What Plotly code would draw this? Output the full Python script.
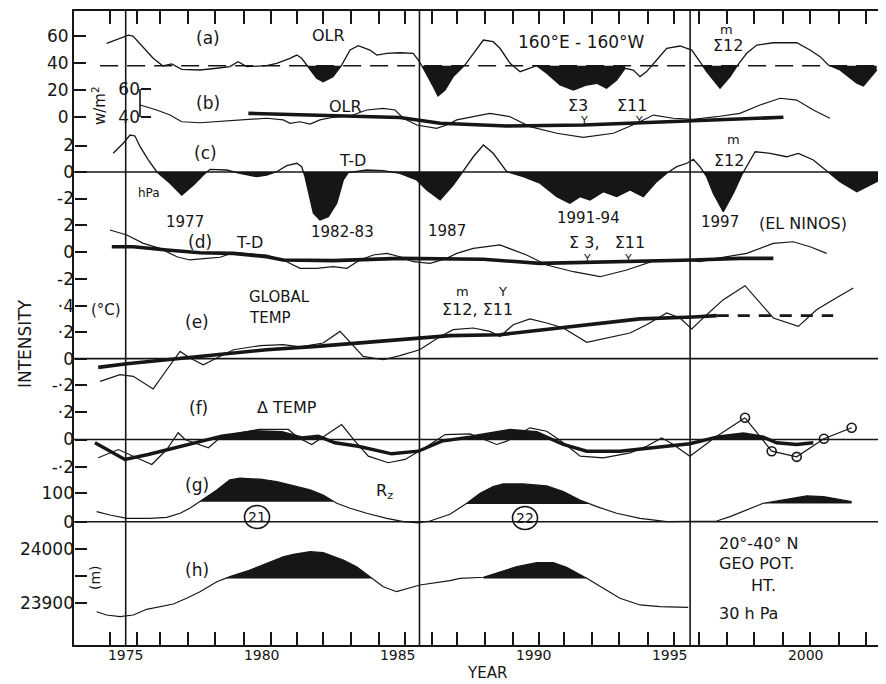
import plotly.graph_objects as go

# ---------------- data ----------------
# (a) OLR 160E-160W, W/m2
A_YR = [1974.30, 1974.67, 1975.10, 1975.27, 1975.64, 1976.00, 1976.37, 1976.69, 1977.06, 1977.73,
        1978.35, 1978.83, 1979.13, 1979.45, 1980.18, 1980.55, 1981.04, 1981.29, 1981.47, 1981.65,
        1982.02, 1982.26, 1982.62, 1982.94, 1983.25, 1983.55, 1983.98, 1984.23, 1984.60, 1985.08,
        1985.57, 1985.76, 1985.94, 1986.31, 1986.48, 1986.74, 1987.04, 1987.47, 1987.78, 1988.15,
        1988.51, 1988.76, 1989.13, 1989.50, 1990.11, 1990.48, 1990.97, 1991.46, 1991.95, 1992.32,
        1992.68, 1993.05, 1993.36, 1993.66, 1993.91, 1994.15, 1994.52, 1994.89, 1995.38, 1995.81,
        1996.11, 1996.36, 1996.85, 1997.22, 1997.46, 1997.83, 1998.20, 1998.81, 1999.67, 2000.16,
        2000.53, 2000.83, 2001.26, 2001.88, 2002.12, 2002.36, 2002.61]
A_OLR = [54.6, 57.6, 60.7, 60.0, 52.1, 43.7, 37.8, 39.3, 35.3, 34.8,
         36.1, 37.3, 41.0, 37.3, 38.0, 39.8, 43.5, 45.9, 43.5, 38.5,
         28.7, 26.1, 29.9, 38.5, 49.6, 52.8, 49.6, 45.9, 47.2, 47.6,
         47.2, 42.2, 36.1, 22.4, 15.5, 20.0, 29.9, 38.5, 47.2, 57.0,
         55.8, 50.9, 39.8, 33.6, 38.0, 32.4, 23.7, 20.0, 23.7, 25.0,
         21.3, 27.4, 36.1, 34.8, 29.9, 33.6, 42.2, 50.9, 52.6, 49.6,
         41.0, 33.6, 21.3, 29.9, 37.3, 47.2, 53.3, 55.0, 55.0, 49.6,
         44.7, 38.5, 34.8, 25.0, 23.0, 28.7, 34.8]
A_REF = 38.0
A_REF_SPAN = [1974.06, 2002.62]
A_EPISODES = [(1981.5, 1983.1), (1985.8, 1987.6), (1990.0, 1993.4), (1996.0, 1997.5), (2000.7, 2003.0)]

# (b) OLR, smoothed
B_YR = [1975.53, 1976.14, 1976.63, 1977.06, 1977.73, 1978.96, 1980.18, 1980.79, 1981.04, 1981.41,
        1981.78, 1982.14, 1982.63, 1983.25, 1983.86, 1984.47, 1984.90, 1985.21, 1985.70, 1986.43,
        1986.80, 1987.17, 1988.39, 1989.13, 1989.86, 1990.85, 1991.82, 1992.93, 1993.79, 1994.40,
        1995.13, 1995.87, 1996.73, 1997.58, 1998.32, 1999.06, 1999.67, 2000.28, 2000.89]
B_OLR = [48.6, 45.0, 41.4, 36.6, 35.9, 37.4, 39.1, 37.9, 35.5, 36.6,
         35.0, 37.9, 39.8, 40.7, 45.0, 46.2, 45.0, 39.1, 34.3, 31.9,
         34.3, 37.9, 42.6, 40.2, 33.1, 28.4, 25.5, 28.4, 35.5, 41.4,
         39.1, 38.4, 40.2, 42.6, 48.6, 53.4, 52.1, 45.0, 39.1]
B_TREND_YR = [1979.51, 1982.63, 1985.08, 1986.56, 1989.01, 1991.82, 1993.90, 1995.87, 1999.18]
B_TREND = [42.6, 40.6, 39.6, 35.5, 33.6, 34.3, 35.9, 37.4, 39.8]

# (c) T-D, hPa
C_YR = [1974.54, 1974.91, 1975.16, 1975.34, 1975.53, 1975.83, 1976.14, 1976.63, 1977.06, 1977.49,
        1977.85, 1978.10, 1978.71, 1979.20, 1979.82, 1980.18, 1980.55, 1980.92, 1981.29, 1981.47,
        1981.59, 1981.78, 1981.90, 1982.14, 1982.45, 1982.76, 1983.00, 1983.18, 1983.86, 1984.47,
        1985.08, 1985.70, 1986.07, 1986.56, 1987.04, 1987.35, 1987.78, 1988.15, 1988.51, 1989.01,
        1989.62, 1990.23, 1990.85, 1991.33, 1991.70, 1992.07, 1992.56, 1993.05, 1993.54, 1994.03,
        1994.52, 1994.89, 1995.26, 1995.63, 1995.87, 1996.11, 1996.36, 1996.60, 1996.97, 1997.34,
        1997.65, 1998.14, 1998.69, 1999.30, 1999.73, 2000.28, 2000.89, 2001.26, 2001.88, 2002.36,
        2002.73, 2002.85]
C_TD = [1.41, 2.17, 2.79, 2.72, 1.91, 0.91, 0.02, -0.85, -1.74, -0.98,
        -0.23, 0.20, 0.15, -0.10, -0.35, -0.23, 0.02, 0.48, 0.66, 0.40,
        -0.35, -2.11, -3.11, -3.62, -3.37, -2.36, -0.60, -0.05, 0.15, 0.10,
        -0.10, -0.60, -1.36, -2.11, -0.98, -0.10, 1.15, 2.04, 1.41, 0.02,
        -0.35, -0.85, -1.86, -2.36, -1.86, -2.11, -1.49, -1.86, -1.36, -1.86,
        -0.73, -0.10, 0.40, 0.66, 0.96, 0.40, -0.35, -1.61, -3.00, -1.61,
        -0.23, 1.53, 1.41, 1.15, 1.41, 0.91, -0.10, -0.73, -1.49, -0.98,
        -0.60, -0.35]

# (d) T-D, smoothed
D_YR = [1974.42, 1975.04, 1975.65, 1976.26, 1976.88, 1977.36, 1977.98, 1978.47, 1978.96, 1979.45,
        1980.18, 1980.79, 1981.41, 1982.02, 1982.63, 1983.13, 1983.61, 1984.10, 1984.60, 1985.08,
        1985.57, 1986.19, 1986.80, 1987.17, 1987.78, 1988.76, 1989.74, 1990.48, 1991.46, 1992.44,
        1993.42, 1994.52, 1995.63, 1996.11, 1996.73, 1997.83, 1998.81, 1999.54, 2000.16, 2000.77]
D_TD = [1.63, 1.26, 0.64, 0.27, -0.35, -0.59, -0.47, -0.39, -0.05, -0.10,
        -0.22, -0.59, -1.21, -1.21, -1.09, -1.21, -0.59, -0.22, -0.10, -0.35,
        -0.72, -0.84, -0.47, -0.10, 0.27, 0.52, -0.22, -0.96, -1.46, -1.83,
        -1.33, -0.59, -0.59, -0.72, -0.47, -0.10, 0.64, 0.76, 0.39, -0.10]
D_TREND_YR = [1974.49, 1975.28, 1976.51, 1977.73, 1978.96, 1980.18, 1980.79, 1982.63, 1985.08, 1986.80,
              1988.15, 1990.23, 1993.90, 1995.87, 1997.58, 1998.81]
D_TREND = [0.39, 0.39, 0.15, -0.05, -0.10, -0.35, -0.59, -0.64, -0.47, -0.54,
           -0.54, -0.84, -0.72, -0.59, -0.47, -0.47]

# (e) global temperature, deg C
E_YR = [1974.06, 1974.79, 1975.28, 1976.01, 1976.51, 1977.00, 1977.36, 1977.85, 1978.35, 1978.96,
        1979.94, 1980.79, 1981.41, 1982.26, 1982.88, 1983.37, 1983.73, 1984.47, 1985.08, 1985.81,
        1986.56, 1987.04, 1987.78, 1988.39, 1988.76, 1989.25, 1989.86, 1990.48, 1991.09, 1991.95,
        1992.68, 1993.54, 1994.15, 1994.89, 1995.38, 1995.81, 1996.36, 1996.97, 1997.77, 1998.32,
        1998.81, 1999.73, 2000.40, 2001.01, 2001.75]
E_TEMP = [-0.172, -0.122, -0.134, -0.230, -0.084, 0.055, 0.005, -0.046, 0.005, 0.068,
          0.099, 0.106, 0.089, 0.119, 0.207, 0.093, 0.017, -0.008, 0.023, 0.068,
          0.169, 0.220, 0.233, 0.207, 0.169, 0.258, 0.302, 0.271, 0.233, 0.124,
          0.157, 0.195, 0.258, 0.347, 0.309, 0.226, 0.334, 0.448, 0.554, 0.423,
          0.309, 0.245, 0.372, 0.448, 0.537]
E_TREND_YR = [1973.99, 1975.04, 1976.51, 1978.35, 1980.18, 1982.02, 1983.86, 1986.92, 1988.76, 1991.46,
              1993.90, 1995.87, 1996.73]
E_TREND = [-0.066, -0.038, -0.008, 0.030, 0.068, 0.093, 0.124, 0.175, 0.182, 0.245,
           0.302, 0.317, 0.327]
E_TREND_EXT_YR = [1996.73, 2001.01]
E_TREND_EXT = [0.327, 0.327]

# (f) delta temperature
F_SM_YR = [1973.87, 1974.97, 1975.83, 1976.81, 1977.79, 1978.53, 1979.75, 1980.74, 1981.47, 1982.08,
           1982.69, 1983.55, 1984.78, 1985.76, 1986.62, 1987.66, 1989.13, 1990.11, 1991.09, 1991.95,
           1993.17, 1994.40, 1995.74, 1996.73, 1997.71, 1998.44, 1998.93, 1999.67, 2000.28]
F_SM = [-0.024, -0.145, -0.109, -0.060, -0.012, 0.024, 0.056, 0.049, 0.012, 0.024,
        -0.024, -0.049, -0.104, -0.085, -0.012, 0.017, 0.065, 0.049, -0.036, -0.085,
        -0.085, -0.060, -0.031, 0.017, 0.041, 0.017, -0.024, -0.036, -0.024]
F_RAW_YR = [1973.99, 1974.73, 1975.96, 1976.51, 1976.93, 1977.18, 1978.04, 1978.53, 1979.88, 1980.98,
            1981.35, 1981.84, 1982.21, 1982.94, 1983.43, 1983.92, 1984.65, 1985.27, 1986.00, 1986.74,
            1987.66, 1988.64, 1989.01, 1989.86, 1990.48, 1991.09, 1991.71, 1992.56, 1993.54, 1994.15,
            1994.71, 1995.13, 1995.74, 1996.24, 1996.73, 1997.77]
F_RAW = [-0.133, -0.073, -0.182, -0.073, 0.049, 0.000, -0.060, 0.024, 0.073, 0.073,
         0.012, -0.036, 0.012, 0.109, -0.012, -0.121, -0.169, -0.145, -0.060, 0.036,
         0.041, -0.036, -0.012, 0.085, 0.060, -0.024, -0.121, -0.133, -0.097, -0.049,
         0.012, -0.036, -0.121, -0.049, 0.024, 0.158]
F_NEW_YR = [1997.77, 1998.75, 1999.67, 2000.67, 2001.69]
F_NEW = [0.158, -0.085, -0.126, 0.005, 0.085]

# (g) sunspot number Rz
G_YR = [1973.93, 1974.42, 1975.04, 1975.89, 1976.51, 1977.00, 1977.36, 1977.85, 1978.35, 1978.83,
        1979.20, 1979.94, 1980.55, 1981.04, 1981.78, 1982.26, 1982.76, 1983.25, 1983.86, 1984.60,
        1985.21, 1985.76, 1986.19, 1986.92, 1987.54, 1988.03, 1988.51, 1988.88, 1989.62, 1990.48,
        1991.09, 1991.70, 1992.32, 1993.05, 1993.91, 1994.89, 1995.75, 1996.73, 1997.22, 1997.83,
        1998.44, 1999.18, 2000.04, 2000.65, 2001.26, 2001.69]
G_RZ = [35.3, 23.7, 12.0, 12.0, 15.5, 29.7, 47.3, 79.1, 111.9, 147.2,
        153.2, 149.7, 141.2, 129.6, 111.9, 94.3, 65.0, 47.3, 29.7, 12.0,
        0.0, -4.0, 2.5, 26.1, 65.0, 100.3, 123.6, 133.1, 133.1, 126.0,
        105.9, 76.6, 53.0, 29.7, 12.0, 0.0, 0.0, 2.5, 17.7, 41.3,
        65.0, 76.6, 90.7, 88.3, 76.6, 70.6]
G_CYCLES = [(1977.6, 1982.9, 70.6), (1987.4, 1992.2, 62.0), (1998.2, 2001.8, 64.0)]
G_CYCLE_NAMES = ["21", "22"]

# (h) 30 hPa geopotential height, 20-40N, m
H_YR = [1973.93, 1974.30, 1974.79, 1975.28, 1975.77, 1976.26, 1976.75, 1977.24, 1977.73, 1978.35,
        1978.83, 1979.57, 1980.18, 1980.79, 1981.16, 1981.78, 1982.26, 1983.00, 1983.49, 1983.98,
        1984.47, 1984.96, 1985.45, 1985.82, 1986.92, 1987.29, 1988.15, 1988.76, 1989.38, 1990.11,
        1990.72, 1991.21, 1991.95, 1992.56, 1993.17, 1993.91, 1994.64, 1995.68]
H_GPH = [23884.4, 23878.3, 23875.2, 23878.3, 23888.9, 23893.7, 23898.7, 23909.3, 23921.5, 23940.0,
         23949.3, 23961.7, 23974.1, 23986.3, 23990.7, 23995.6, 23993.7, 23980.2, 23967.8, 23949.3,
         23930.7, 23921.5, 23927.8, 23933.9, 23941.9, 23946.3, 23948.2, 23958.5, 23967.8, 23975.2,
         23975.2, 23966.7, 23946.3, 23927.8, 23909.3, 23896.9, 23893.7, 23892.6]
H_REF = 23946.0
H_CYCLES = [(1978.5, 1984.2), (1988.0, 1992.1)]

# axis ticks and reference years
YEAR_LABELS = [1975, 1980, 1985, 1990, 1995, 2000]
YEAR_TICKS = [1974.43, 1975.40, 1976.26, 1977.28, 1978.28, 1979.35, 1980.33, 1981.29, 1982.25, 1983.27,
              1984.31, 1985.27, 1986.25, 1987.17, 1988.21, 1989.23, 1990.20, 1991.12, 1992.14, 1993.15,
              1994.19, 1995.17, 1996.09, 1997.10, 1998.11, 1999.15, 2000.15, 2001.23, 2002.20]
VLINE_YR = [1975.0, 1985.8, 1995.75]

# ---------------- geometry / style ----------------
FONT = "DejaVu Sans"
INK = "#161616"
PAGE_OFF = 8                      # default page margin of the html body
W, H = 886, 684                   # target picture size
PL, PR, PT, PB = 74, 886, 11, 645  # plot area edges in picture pixels
PW, PH = PR - PL, PB - PT
X1975_PX, PX_PER_YR = 125.7, 27.2


def xpap(x):
    return (x - PL) / PW


def ypap(y):
    return (PB - y) / PH


def yrange(v1, p1, v2, p2):
    k = (v2 - v1) / (p1 - p2)
    return [v1 - k * (PB - p1), v1 + k * (p1 - PT)]


XR = [1975 - (X1975_PX - PL) / PX_PER_YR, 1975 + (PR - X1975_PX) / PX_PER_YR]

fig = go.Figure()


def add_line(x, y, ax, w=1.3, dash=None, mode="lines", marker=None, xax="x"):
    fig.add_trace(go.Scatter(x=x, y=y, xaxis=xax, yaxis=ax, mode=mode,
                             line=dict(color=INK, width=w, dash=dash),
                             marker=marker, hoverinfo="skip", showlegend=False))


def fill_region(xs, ys, thr, lo, hi, below):
    pts = []
    for i in range(len(xs)):
        if i > 0 and (ys[i - 1] - thr) * (ys[i] - thr) < 0:
            xc = xs[i - 1] + (thr - ys[i - 1]) * (xs[i] - xs[i - 1]) / (ys[i] - ys[i - 1])
            if lo <= xc <= hi:
                pts.append((xc, thr))
        if lo <= xs[i] <= hi:
            v = min(ys[i], thr) if below else max(ys[i], thr)
            pts.append((xs[i], v))
    if not pts:
        return [], []
    px_ = [pts[0][0]] + [p[0] for p in pts] + [pts[-1][0]]
    py_ = [thr] + [p[1] for p in pts] + [thr]
    return px_, py_


def add_fill(xs, ys, thr, ax, below, lo, hi):
    fx, fy = fill_region(xs, ys, thr, lo, hi, below)
    fig.add_trace(go.Scatter(x=fx, y=fy, yaxis=ax, mode="lines", fill="toself",
                             fillcolor=INK, line=dict(width=0, color=INK),
                             hoverinfo="skip", showlegend=False))


# (a)
for lo, hi in A_EPISODES:
    add_fill(A_YR, A_OLR, A_REF, "y", True, lo, hi)
add_line(A_YR, A_OLR, "y", 1.3)
# (b)
add_line(B_YR, B_OLR, "y2", 1.2)
add_line(B_TREND_YR, B_TREND, "y2", 3.6)
# (c)
add_fill(C_YR, C_TD, 0.0, "y3", True, -1e9, 1e9)
add_line(C_YR, C_TD, "y3", 1.3)
# (d)
add_line(D_YR, D_TD, "y4", 1.2)
add_line(D_TREND_YR, D_TREND, "y4", 3.6)
# (e)
add_line(E_YR, E_TEMP, "y5", 1.2)
add_line(E_TREND_YR, E_TREND, "y5", 3.6)
add_line(E_TREND_EXT_YR, E_TREND_EXT, "y5", 2.6, dash="12px,9px")
# (f)
add_fill(F_SM_YR, F_SM, 0.0, "y6", False, -1e9, 1e9)
add_line(F_SM_YR, F_SM, "y6", 3.4)
add_line(F_RAW_YR, F_RAW, "y6", 1.2)
add_line(F_NEW_YR, F_NEW, "y6", 1.2, mode="lines+markers",
         marker=dict(symbol="circle-open", size=9, color=INK, line=dict(width=1.6, color=INK)))
# (g)
for lo, hi, thr in G_CYCLES:
    add_fill(G_YR, G_RZ, thr, "y7", False, lo, hi)
add_line(G_YR, G_RZ, "y7", 1.2)
# (h)
for lo, hi in H_CYCLES:
    add_fill(H_YR, H_GPH, H_REF, "y8", False, lo, hi)
add_line(H_YR, H_GPH, "y8", 1.2, xax="x2")

TF = dict(family=FONT, size=17, color=INK)


def yax(rng, vals, texts, pos=0.0, overlay=True, ticklen=12):
    d = dict(range=rng, tickmode="array", tickvals=vals, ticktext=texts,
             ticks="inside", ticklen=ticklen, tickwidth=1.6, tickcolor=INK,
             showgrid=False, zeroline=False, showline=False, tickfont=TF,
             fixedrange=True)
    if overlay:
        d.update(overlaying="y", anchor="free", position=pos, side="left")
    else:
        d.update(anchor="x", showline=True, linecolor=INK, linewidth=1.8)
    return d


layout_axes = dict(
    yaxis=yax(yrange(0, 117, 60, 36), [0, 20, 40, 60], ["0", "20", "40", "60"], overlay=False),
    yaxis2=yax(yrange(40, 117, 60, 89), [40, 60], ["40", "60"], pos=xpap(140), ticklen=10),
    yaxis3=yax(yrange(-2, 198.5, 2, 145.5), [-2, 0, 2], ["-2", "0", "2"]),
    yaxis4=yax(yrange(-2, 279, 2, 225), [-2, 0, 2], ["-2", "0", "2"]),
    yaxis5=yax(yrange(-0.2, 385, 0.4, 306), [-0.2, 0, 0.2, 0.4], ["-·2", "0", "·2", "·4"]),
    yaxis6=yax(yrange(-0.2, 467, 0.2, 412), [-0.2, 0, 0.2], ["-·2", "0", "·2"]),
    yaxis7=yax(yrange(0, 521.7, 100, 493.3), [0, 100], ["0", "100"]),
    yaxis8=yax(yrange(23900, 603.3, 24000, 549.3), [23900, 23950, 24000], ["23900", " ", "24000"]),
)

shapes = []
for v in VLINE_YR:
    shapes.append(dict(type="line", xref="x", yref="paper", x0=v, x1=v, y0=0, y1=1,
                       line=dict(color=INK, width=1.6)))
for ax in ["y3", "y5", "y6", "y7"]:
    shapes.append(dict(type="line", xref="paper", yref=ax, x0=0, x1=1, y0=0, y1=0,
                       line=dict(color=INK, width=1.6)))
shapes.append(dict(type="line", xref="x", yref="y", x0=A_REF_SPAN[0], x1=A_REF_SPAN[1],
                   y0=A_REF, y1=A_REF, line=dict(color=INK, width=1.6, dash="18px,9px")))
shapes.append(dict(type="line", xref="paper", yref="y2", x0=xpap(140), x1=xpap(140),
                   y0=40, y1=60, line=dict(color=INK, width=1.6)))
for name, (cx, cy) in zip(G_CYCLE_NAMES, [(257, 517), (525, 518)]):
    shapes.append(dict(type="circle", xref="paper", yref="paper", xsizemode="pixel",
                       ysizemode="pixel", xanchor=xpap(cx), yanchor=ypap(cy),
                       x0=-12.5, x1=12.5, y0=-11.5, y1=11.5, line=dict(color=INK, width=1.6)))

anns = []


def ann(text, x, y, size=16, xanchor="center", angle=0):
    anns.append(dict(text=text, x=xpap(x), y=ypap(y), xref="paper", yref="paper",
                     showarrow=False, xanchor=xanchor, yanchor="middle", textangle=angle,
                     font=dict(family=FONT, size=size, color=INK)))


ann("(a)", 208, 38, 17)
ann("OLR", 328, 36)
ann("160°E - 160°W", 581, 42, 17)
ann("m", 726, 29, 13)
ann("Σ12", 728, 45, 16)
ann("w/m<sup>2</sup>", 99, 106, 15, angle=-90)
ann("(b)", 208, 103, 17)
ann("OLR", 345, 107)
ann("Σ3", 578, 106, 16)
ann("Y", 584, 120, 11)
ann("Σ11", 632, 106, 16)
ann("Y", 639, 120, 11)
ann("(c)", 205, 153, 17)
ann("T-D", 352, 161)
ann("hPa", 149, 193, 12)
ann("m", 733, 140, 13)
ann("Σ12", 729, 160, 16)
ann("1977", 185, 222, 15)
ann("1982-83", 342, 232, 15)
ann("1987", 447, 231, 15)
ann("1991-94", 588, 218, 15)
ann("1997", 720, 222, 15)
ann("(EL NINOS)", 803, 223, 16)
ann("(d)", 200, 242, 17)
ann("T-D", 249, 243)
ann("Σ 3,   Σ11", 607, 243, 16)
ann("Y", 587, 258, 11)
ann("Y", 628, 258, 11)
ann("(°C)", 106, 310, 15)
ann("GLOBAL", 247, 297, 15, xanchor="left")
ann("TEMP", 247, 318, 15, xanchor="left")
ann("(e)", 197, 322, 17)
ann("m", 462, 291, 13)
ann("Y", 502, 291, 13)
ann("Σ12, Σ11", 477, 310, 16)
ann("INTENSITY", 25, 344, 17, angle=-90)
ann("(f)", 198, 408, 17)
ann("Δ TEMP", 287, 407, 16)
ann("(g)", 197, 485, 17)
ann("R<sub>z</sub>", 384, 491, 16)
ann("21", 257, 517, 14)
ann("22", 525, 518, 14)
ann("(h)", 197, 570, 17)
ann("(m)", 95, 578, 14, angle=-90)
ann("20°-40° N", 717, 543, 16, xanchor="left")
ann("GEO POT.", 717, 563, 16, xanchor="left")
ann("HT.", 749, 585, 16, xanchor="left")
ann("30 h Pa", 717, 613, 16, xanchor="left")
ann("YEAR", 487, 673, 15)

fig.update_layout(
    width=W - PAGE_OFF, height=H - PAGE_OFF,
    margin=dict(l=PL - PAGE_OFF, r=W - PR, t=PT - PAGE_OFF, b=H - PB),
    paper_bgcolor="white", plot_bgcolor="white", showlegend=False,
    font=dict(family=FONT, color=INK),
    # tick marks (bottom + mirrored on top)
    xaxis=dict(range=XR, tickmode="array", tickvals=YEAR_TICKS,
               ticktext=["" for _ in YEAR_TICKS], ticks="inside", ticklen=13,
               tickwidth=1.6, tickcolor=INK,
               showline=True, mirror="ticks", linecolor=INK, linewidth=1.8,
               showgrid=False, zeroline=False, fixedrange=True),
    # year labels
    xaxis2=dict(range=XR, overlaying="x", side="bottom", anchor="y",
                tickmode="array", tickvals=YEAR_LABELS,
                ticktext=[str(v) for v in YEAR_LABELS], ticks="", showline=False,
                showgrid=False, zeroline=False, fixedrange=True,
                tickfont=dict(family=FONT, size=14, color=INK)),
    shapes=shapes, annotations=anns, **layout_axes,
)

fig.write_html("out.html")
